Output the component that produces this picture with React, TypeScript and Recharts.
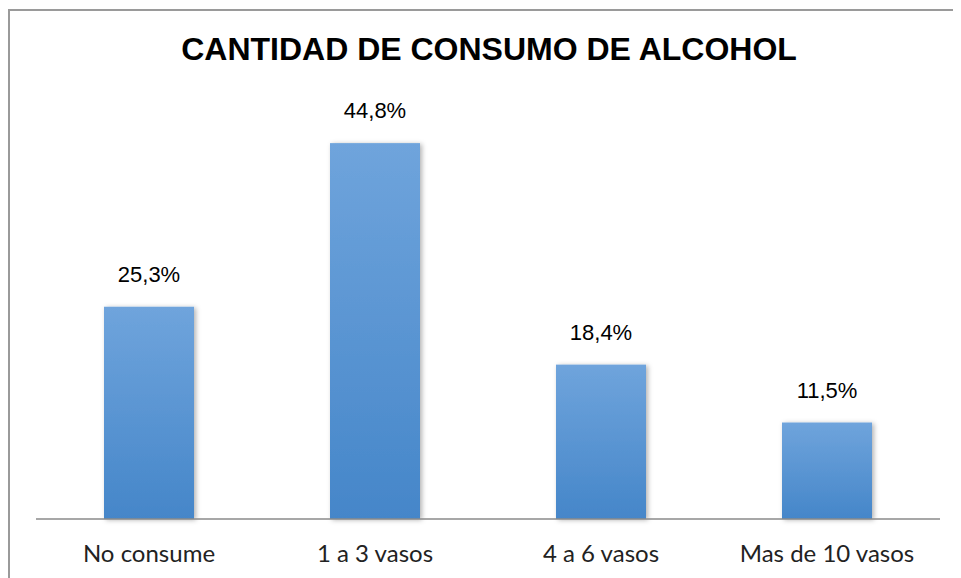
import React from "react";
import { BarChart, Bar, XAxis, YAxis, LabelList } from "recharts";

const categories = ["No consume", "1 a 3 vasos", "4 a 6 vasos", "Mas de 10 vasos"];
const values = [25.3, 44.8, 18.4, 11.5];
const valueLabels = ["25,3%", "44,8%", "18,4%", "11,5%"];
const title = "CANTIDAD DE CONSUMO DE ALCOHOL";

const data = categories.map((c, i) => ({ name: c, value: values[i], label: valueLabels[i] }));

const ShadowBar = (props: any) => {
  const { x, y, width, height } = props;
  return (
    <g>
      <rect x={x} y={y} width={width} height={height} fill="url(#barGrad)" filter="url(#barShadow)" />
    </g>
  );
};

const Tick = (props: any) => {
  const { x, y, payload } = props;
  return (
    <text x={x} y={y + 35} textAnchor="middle" fontFamily="Lato, 'Open Sans', sans-serif" fontSize={24} fill="#222">
      {payload.value}
    </text>
  );
};

export default function App() {
  return (
    <div style={{ position: "relative", width: 953, height: 570, borderLeft: "2px solid #9a9a9a", borderTop: "2px solid #9a9a9a", boxSizing: "border-box", background: "#fff", marginTop: 1 }}>
      <div style={{ position: "absolute", left: 0, top: 20, width: 958, textAlign: "center", fontFamily: "'Liberation Sans', Arial, sans-serif", fontWeight: "bold", fontSize: 32, color: "#000" }}>
        {title}
      </div>
      <BarChart width={951} height={566} data={data} margin={{ top: 88.5, right: 21, bottom: 18, left: 26 }} barSize={90}>
        <defs>
          <linearGradient id="barGrad" x1="0" y1="0" x2="0" y2="1">
            <stop offset="0%" stopColor="#6fa4dc" />
            <stop offset="100%" stopColor="#4586c9" />
          </linearGradient>
          <filter id="barShadow" x="-20%" y="-10%" width="140%" height="120%">
            <feDropShadow dx="2" dy="1" stdDeviation="2.5" floodColor="#000" floodOpacity="0.3" />
          </filter>
        </defs>
        <YAxis hide domain={[0, 50]} />
        <XAxis dataKey="name" height={40} tickLine={false} axisLine={{ stroke: "#8a8a8a", strokeWidth: 1.5 }} tick={<Tick />} interval={0} />
        <Bar dataKey="value" isAnimationActive={false} shape={<ShadowBar />}>
          <LabelList dataKey="label" position="top" offset={25} fontFamily="'Liberation Sans', Arial, sans-serif" fontSize={22} fill="#000" />
        </Bar>
      </BarChart>
    </div>
  );
}
